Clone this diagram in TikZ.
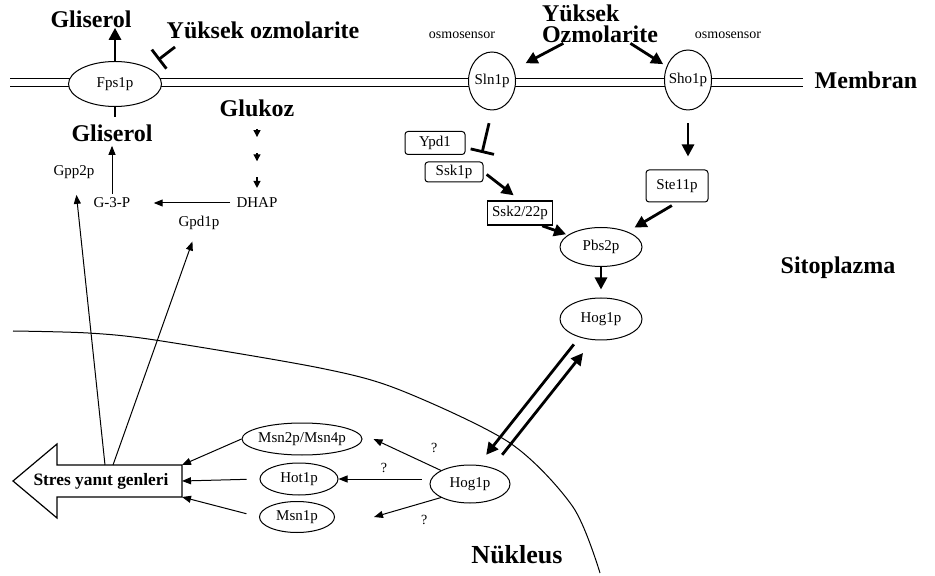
\documentclass[tikz,border=0pt]{standalone}
\usepackage{fontspec}
\setmainfont{Liberation Serif}
\usetikzlibrary{arrows.meta,positioning,calc,shapes.geometric}

\begin{document}
\begin{tikzpicture}[x=0.5pt,y=-0.5pt,
  prot/.style={ellipse, draw, fill=white, line width=0.5pt, inner sep=0pt, inner xsep=-2pt, font=\fontsize{7.5}{9}\selectfont},
  kbox/.style={rectangle, draw, fill=white, line width=0.5pt, rounded corners=1.5pt, inner sep=0pt, font=\fontsize{7.5}{9}\selectfont},
  small/.style={inner sep=0pt, font=\fontsize{7.5}{9}\selectfont},
  big/.style={inner sep=0pt, font=\fontsize{12}{10}\selectfont\bfseries},
  thin/.style={-{Triangle[length=4.5pt,width=3.5pt]}, line width=0.5pt},
  fat/.style={-{Triangle[length=6pt,width=6pt]}, line width=1.4pt},
  inhibit/.style={-{Bar[width=12pt]}, line width=1.4pt}]

\useasboundingbox (0,0) rectangle (935,576);

% Membrane
\draw[line width=0.5pt] (10,79) -- (803,79);
\draw[line width=0.5pt] (10,87) -- (803,87);
\node[prot, minimum width=46.5pt, minimum height=22.5pt] (fps) at (115,84) {Fps1p};
\node[prot, inner xsep=-4pt, minimum width=23.5pt, minimum height=29pt] (sln) at (492,81) {Sln1p};
\node[prot, inner xsep=-4pt, minimum width=23.5pt, minimum height=30pt] (sho) at (688,80) {Sho1p};
\node[big] (membran) at (866,80) {Membran};
\node[small, font=\fontsize{7}{8}\selectfont] (osm1) at (462,35) {osmosensor};
\node[small, font=\fontsize{7}{8}\selectfont] (osm2) at (728,35) {osmosensor};

% Glycerol side
\node[big] (gli1) at (91,19) {Gliserol};
\node[big] (yuk1) at (263,30) {Yüksek ozmolarite};
\node[big] (gli2) at (112,133) {Gliserol};
\node[big] (glu) at (257,108) {Glukoz};
\node[small] (gpp) at (74,172) {Gpp2p};
\node[small] (g3p) at (112,203) {G-3-P};
\node[small] (dhap) at (257,203) {DHAP};
\node[small] (gpd) at (199,223) {Gpd1p};

\coordinate (inhA) at (175,47);
\coordinate (inhB) at (158,60);
\draw[inhibit] (inhA) -- (inhB);
\draw[fat] (fps.north) -- (fps.north |- gli1.south);
\draw[line width=1.4pt, shorten >=3.5pt] (fps.south) -- (fps.south |- gli2.north);
\draw[thin, shorten <=2pt, shorten >=2pt] (g3p) -- (gli2);
\draw[thin, shorten <=3pt, shorten >=11.5pt] (dhap) -- (g3p);
\foreach \a/\b in {0.15/0.25, 0.45/0.55, 0.75/0.88}
  \draw[-{Triangle[length=3.5pt,width=3.5pt]}, line width=0.6pt] ($(glu.south)!\a!(dhap.north)$) -- ($(glu.south)!\b!(dhap.north)$);

% Sensors and MAPK cascade
\node[big, align=left, font=\fontsize{12}{10.5}\selectfont\bfseries] (yuk2) at (600,24) {Yüksek\\Ozmolarite};
\node[kbox, minimum width=30pt, minimum height=11.5pt] (ypd) at (435,143) {Ypd1};
\node[kbox, minimum width=29pt, minimum height=10pt] (ssk1) at (454,172) {Ssk1p};
\node[rectangle, draw, fill=white, line width=0.8pt, inner sep=0pt, minimum width=32.5pt, minimum height=12pt, font=\fontsize{7.5}{9}\selectfont] (ssk2) at (520,213) {Ssk2/22p};
\node[kbox, minimum width=31pt, minimum height=16pt] (ste) at (677,186) {Ste11p};
\node[prot, minimum width=41pt, minimum height=19.5pt] (pbs) at (601,247) {Pbs2p};
\node[prot, minimum width=41pt, minimum height=21pt] (hogc) at (601,319) {Hog1p};
\node[big] (sito) at (838,268) {Sitoplazma};
\coordinate (ypdbar) at (482,153);

\draw[fat, shorten >=6.5pt] (yuk2) -- (sln);
\draw[fat, shorten >=2pt] (yuk2) -- (sho);
\draw[inhibit, shorten <=6.5pt] (sln.south) -- (ypdbar);
\draw[fat, shorten <=2pt, shorten >=4pt] (ssk1.east) -- (ssk2.north);
\draw[fat, shorten >=1pt] (ssk2.-30) -- (pbs.160);
\draw[fat, shorten <=6.5pt, shorten >=6.5pt] (sho.south) -- (sho.south |- ste.north);
\draw[fat, shorten <=3pt, shorten >=4pt] (ste.south) -- (pbs.30);
\draw[fat, shorten >=4pt] (pbs) -- (hogc);

% Nucleus
\draw[line width=0.5pt] plot[smooth] coordinates {(13,331) (88,333) (155,340) (320,368) (400,390) (510,443) (573,507) (600,573)};
\node[big, font=\fontsize{13}{14}\selectfont\bfseries] (nuk) at (517,555) {Nükleus};
\node[prot, minimum width=40pt, minimum height=19pt] (hogn) at (470,484) {Hog1p};
\node[prot, minimum width=60pt, minimum height=16pt] (msn24) at (302,439) {Msn2p/Msn4p};
\node[prot, minimum width=39pt, minimum height=16pt] (hot) at (299,479) {Hot1p};
\node[prot, minimum width=37.5pt, minimum height=15.5pt] (msn1) at (297,517) {Msn1p};

\draw[fat, transform canvas={xshift=-3.5pt}, shorten <=3.5pt, shorten >=7pt] (hogc) -- (hogn);
\draw[fat, transform canvas={xshift=4.5pt}, shorten <=7pt, shorten >=9pt] (hogn) -- (hogc);

\draw[thin] (hogn.155) -- ([xshift=5.5pt]msn24.east) node[pos=0.1, above=7pt, small, font=\fontsize{7}{8}\selectfont] (q1) {?};
\draw[thin, shorten <=4pt] (hogn.west |- hot.east) -- (hot.east) node[midway, above=3pt, small, font=\fontsize{7}{8}\selectfont] (q2) {?};
\draw[thin] (hogn.205) -- ([xshift=19.5pt]msn1.east) node[pos=0.25, below=6pt, small, font=\fontsize{7}{8}\selectfont] (q3) {?};

% Stress response genes
\node[inner sep=0pt, font=\fontsize{8.7}{10}\selectfont\bfseries] (stres) at (101,481) {Stres yanıt genleri};
\draw[line width=0.6pt] (182,465) -- (57,465) -- (57,444) -- (13,481) -- (57,518) -- (57,497) -- (182,497) -- cycle;
\coordinate (st1) at (182,465);
\coordinate (st2) at (182,481);
\coordinate (st3) at (182,497);
\coordinate (up1) at (105,465);
\coordinate (up2) at (113,465);

\draw[thin] (msn24.west) -- (st1);
\draw[thin, shorten <=6.5pt] (hot.west) -- (st2);
\draw[thin, shorten <=6.5pt] (msn1.west) -- (st3);
\draw[thin, shorten >=8pt] (up1) -- (gpp);
\draw[thin, shorten >=6pt] (up2) -- (gpd);
\end{tikzpicture}
\end{document}
